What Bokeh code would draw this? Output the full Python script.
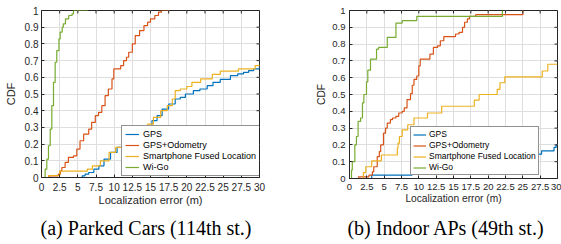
import math
from bokeh.plotting import figure
from bokeh.models import Range1d, FixedTicker, Legend, LegendItem, Div
from bokeh.layouts import row, column
from bokeh.embed import file_html
from bokeh.resources import INLINE

# ---------------- data ----------------
x_ticks = [0, 2.5, 5, 7.5, 10, 12.5, 15, 17.5, 20, 22.5, 25, 27.5, 30]
x_tick_labels = ["0", "2.5", "5", "7.5", "10", "12.5", "15", "17.5", "20", "22.5", "25", "27.5", "30"]
y_ticks = [0, 0.1, 0.2, 0.3, 0.4, 0.5, 0.6, 0.7, 0.8, 0.9, 1]
y_tick_labels = ["0", "0.1", "0.2", "0.3", "0.4", "0.5", "0.6", "0.7", "0.8", "0.9", "1"]

series_names = ["GPS", "GPS+Odometry", "Smartphone Fused Location", "Wi-Go"]
series_colors = ["#0072BD", "#D95319", "#EDB120", "#77AC30"]

x_label = "Localization error (m)"
y_label = "CDF"
captions = ["(a) Parked Cars (114th st.)", "(b) Indoor APs (49th st.)"]

# (a) Parked Cars
a_gps_err = [5.4, 5.6, 6.0, 6.5, 7.2, 7.9, 8.6, 9.5, 10.4, 11.3, 12.7, 14.1, 14.6, 15.2, 15.9, 16.6,
             17.5, 18.4, 19.1, 19.8, 20.9, 21.8, 22.8, 23.6, 24.6, 26.0, 27.0, 27.8, 28.5, 29.2, 30.0]
a_gps_cdf = [0.0, 0.01, 0.02, 0.03, 0.05, 0.07, 0.11, 0.15, 0.18, 0.21, 0.25, 0.29, 0.31, 0.34, 0.37, 0.41,
             0.44, 0.47, 0.48, 0.5, 0.52, 0.53, 0.55, 0.57, 0.587, 0.61, 0.62, 0.63, 0.64, 0.65, 0.665]
a_odo_err = [0.78, 1.0, 2.3, 2.6, 2.8, 3.25, 3.7, 4.4, 4.86, 5.3, 5.8, 6.5, 6.9, 7.4, 7.85, 8.3, 8.75,
             9.2, 9.7, 9.95, 10.9, 11.3, 11.7, 12.0, 12.5, 12.9, 13.5, 14.1, 14.6, 15.0, 15.6, 16.1, 16.5, 17.6]
a_odo_cdf = [0.0, 0.01, 0.02, 0.04, 0.06, 0.09, 0.12, 0.13, 0.17, 0.22, 0.26, 0.29, 0.33, 0.37, 0.39, 0.43, 0.49,
             0.53, 0.59, 0.65, 0.67, 0.7, 0.72, 0.75, 0.8, 0.85, 0.88, 0.91, 0.93, 0.95, 0.97, 0.99, 1.0, 1.0]
a_sfl_err = [1.0, 1.0, 2.5, 6.3, 7.0, 8.1, 9.3, 10.2, 11.0, 12.0, 13.0, 14.0, 14.6, 15.4, 16.4, 17.3, 18.0,
             18.4, 19.1, 20.0, 20.7, 21.9, 23.5, 24.6, 27.1, 29.4, 30.0]
a_sfl_cdf = [0.0, 0.012, 0.038, 0.05, 0.07, 0.1, 0.15, 0.18, 0.19, 0.21, 0.24, 0.28, 0.32, 0.36, 0.40, 0.43, 0.47,
             0.52, 0.53, 0.545, 0.57, 0.59, 0.617, 0.637, 0.65, 0.67, 0.675]
a_wigo_err = [0.28, 0.5, 0.73, 0.96, 1.2, 1.42, 1.65, 1.88, 2.1, 2.4, 2.57, 2.85, 3.0, 3.3, 3.75, 4.2, 4.4, 6.4]
a_wigo_cdf = [0.0, 0.05, 0.11, 0.19, 0.29, 0.43, 0.57, 0.69, 0.76, 0.83, 0.87, 0.9, 0.92, 0.95, 0.97, 0.98, 1.0, 1.0]

# (b) Indoor APs
b_gps_err = [3.0, 3.2, 9.0, 12.0, 15.0, 18.0, 20.0, 23.0, 25.5, 26.5, 27.7, 29.5, 29.8, 30.0]
b_gps_cdf = [0.0, 0.02, 0.04, 0.06, 0.08, 0.1, 0.12, 0.13, 0.14, 0.145, 0.165, 0.185, 0.2, 0.2]
b_odo_err = [1.15, 1.3, 2.8, 3.3, 3.5, 4.0, 4.3, 4.5, 4.9, 5.2, 5.45, 5.9, 6.2, 6.7, 7.1, 7.6, 7.9, 8.3, 8.8,
             9.05, 9.3, 9.7, 10.0, 10.2, 11.6, 12.1, 12.7, 13.1, 13.6, 15.3, 15.8, 16.3, 16.6, 17.0, 17.3, 18.2, 25.0]
b_odo_cdf = [0.0, 0.01, 0.02, 0.04, 0.07, 0.13, 0.16, 0.2, 0.27, 0.3, 0.33, 0.35, 0.36, 0.37, 0.39, 0.4, 0.42, 0.47, 0.505,
             0.555, 0.59, 0.61, 0.67, 0.71, 0.74, 0.78, 0.79, 0.82, 0.845, 0.86, 0.87, 0.9, 0.93, 0.95, 0.965, 0.975, 1.0]
b_sfl_err = [2.0, 2.0, 2.35, 3.2, 4.6, 6.9, 7.0, 7.2, 7.6, 8.4, 9.3, 11.25, 13.3, 18.0, 18.7, 21.3, 21.7,
             22.4, 27.8, 28.6, 30.0]
b_sfl_cdf = [0.0, 0.035, 0.07, 0.105, 0.14, 0.18, 0.21, 0.25, 0.29, 0.32, 0.36, 0.39, 0.43, 0.466, 0.5, 0.53, 0.57,
             0.605, 0.64, 0.68, 0.68]
b_wigo_err = [0.0, 0.29, 0.4, 0.77, 1.0, 1.24, 1.6, 1.87, 2.07, 2.45, 2.64, 3.03, 3.9, 4.2, 5.45, 6.7, 7.6, 9.7, 22.05]
b_wigo_cdf = [0.0, 0.05, 0.1, 0.2, 0.25, 0.34, 0.36, 0.45, 0.5, 0.575, 0.645, 0.71, 0.77, 0.78, 0.84, 0.925, 0.94,
              0.965, 1.0]

panel_a = [(a_gps_err, a_gps_cdf), (a_odo_err, a_odo_cdf), (a_sfl_err, a_sfl_cdf), (a_wigo_err, a_wigo_cdf)]
panel_b = [(b_gps_err, b_gps_cdf), (b_odo_err, b_odo_cdf), (b_sfl_err, b_sfl_cdf), (b_wigo_err, b_wigo_cdf)]

AX = "#262626"
SANS = "Liberation Sans"
FIG_H = 216


def key(v):
    return int(v) if float(v).is_integer() else v


def make_panel(series, width, bl, br, bt, bb, tick_fs, label_fs, leg_fs, leg_loc, leg_glyph_w,
               leg_h, leg_pad, leg_spacing, leg_standoff, xl_stand, yl_stand, xt_stand, yt_stand):
    p = figure(width=width, height=FIG_H, x_range=Range1d(0, 30), y_range=Range1d(0, 1),
               output_backend="svg", toolbar_location=None, title=None,
               min_border_left=bl, min_border_right=br, min_border_top=bt, min_border_bottom=bb)
    p.background_fill_color = "white"
    p.border_fill_color = "white"
    p.outline_line_color = AX
    p.outline_line_width = 1

    xt = FixedTicker(ticks=x_ticks)
    yt = FixedTicker(ticks=y_ticks)
    p.xgrid.grid_line_color = "#dedede"
    p.ygrid.grid_line_color = "#dedede"
    p.xgrid.ticker = xt
    p.ygrid.ticker = yt

    renderers = []
    for (xs, ys), c in zip(series, series_colors):
        r = p.step(xs, ys, mode="after", line_color=c, line_width=1.2)
        renderers.append(r)

    # inward ticks on the top and right edges of the box
    p.ray(x=x_ticks, y=[1] * len(x_ticks), length=3, angle=-math.pi / 2, length_units="screen",
          line_color=AX, line_width=1)
    p.ray(x=[30] * len(y_ticks), y=y_ticks, length=3, angle=math.pi, length_units="screen",
          line_color=AX, line_width=1)

    p.xaxis.ticker = xt
    p.yaxis.ticker = yt
    p.xaxis.major_label_overrides = {key(v): s for v, s in zip(x_ticks, x_tick_labels)}
    p.yaxis.major_label_overrides = {key(v): s for v, s in zip(y_ticks, y_tick_labels)}
    for ax in (p.xaxis[0], p.yaxis[0]):
        ax.axis_line_color = AX
        ax.major_tick_line_color = AX
        ax.major_tick_in = 3
        ax.major_tick_out = 0
        ax.minor_tick_line_color = None
        ax.major_label_text_font = SANS
        ax.major_label_text_font_size = tick_fs
        ax.major_label_text_color = AX
        ax.axis_label_text_font = SANS
        ax.axis_label_text_font_size = label_fs
        ax.axis_label_text_font_style = "normal"
        ax.axis_label_text_color = AX
    p.xaxis.axis_label = x_label
    p.yaxis.axis_label = y_label
    p.xaxis.axis_label_standoff = xl_stand
    p.yaxis.axis_label_standoff = yl_stand
    p.xaxis.major_label_standoff = xt_stand
    p.yaxis.major_label_standoff = yt_stand

    items = [LegendItem(label=n, renderers=[r]) for n, r in zip(series_names, renderers)]
    leg = Legend(items=items, location=leg_loc)
    leg.label_text_font = SANS
    leg.label_text_font_size = leg_fs
    leg.label_text_color = "black"
    leg.border_line_color = AX
    leg.border_line_width = 1
    leg.background_fill_color = "white"
    leg.background_fill_alpha = 1
    leg.glyph_width = leg_glyph_w
    leg.glyph_height = leg_h
    leg.label_height = leg_h
    leg.padding = leg_pad
    leg.spacing = leg_spacing
    leg.margin = 0
    leg.label_standoff = leg_standoff
    p.add_layout(leg)
    return p


def caption_div(text, width, shift):
    html = ('<div style="position:relative; left:%dpx; width:%dpx; text-align:center; '
            'font-family:\'Liberation Serif\', serif; font-size:20px; line-height:24px; '
            'white-space:nowrap; color:black;">%s</div>' % (shift, width, text))
    return Div(text=html, width=width, height=244 - FIG_H, margin=0)


pa = make_panel(panel_a, 280, 41, 21, 10, FIG_H - 177, "10px", "11px", "9px", (80, 1), 14, 10, 3, 1, 4,
                0, 5, 5, 3)
pb = make_panel(panel_b, 281, 69, 4, 10, FIG_H - 178, "9.5px", "10.2px", "8.5px", (61, 3), 13, 9, 2, 1, 3,
                0, 2, 5, 4)

layout = row(column(pa, caption_div(captions[0], 280, 6)),
             column(pb, caption_div(captions[1], 281, 25)))
open("out.html", "w").write(file_html(layout, INLINE))
